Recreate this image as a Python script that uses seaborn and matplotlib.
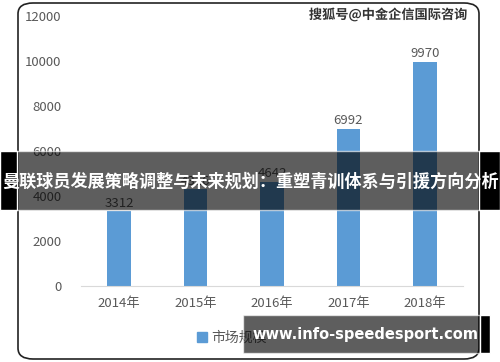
import matplotlib
matplotlib.use("Agg")
import matplotlib.pyplot as plt
import matplotlib.patheffects as pe
import pandas as pd
import seaborn as sns
from matplotlib.patches import FancyBboxPatch, Patch, Rectangle

# data
years = ["2014年", "2015年", "2016年", "2017年", "2018年"]
market_size = [3312, 4316, 4642, 6992, 9970]
y_ticks = [0, 2000, 4000, 6000, 8000, 10000, 12000]
legend_label = "市场规模"
banner_text = "曼联球员发展策略调整与未来规划：重塑青训体系与引援方向分析"
watermark_text = "搜狐号@中金企信国际咨询"
url_text = "www.info-speedesport.com"

df = pd.DataFrame({"year": years, "value": market_size})

sns.set_style("white")
plt.rcParams["font.family"] = ["Noto Sans CJK SC", "DejaVu Sans"]

W, H = 500, 362
fig = plt.figure(figsize=(W / 100, H / 100), dpi=100)


def fx(x):
    return x / W


def fy(y):
    return 1 - y / H


ax = fig.add_axes([fx(81), fy(286), fx(463) - fx(81), fy(16) - fy(286)])
sns.barplot(data=df, x="year", y="value", color="#5b9bd5", width=0.31,
            saturation=1, linewidth=0, ax=ax)

ax.set_ylim(0, 12000)
ax.set_yticks(y_ticks)
ax.set_xlabel("")
ax.set_ylabel("")
grey = "#595959"
ax.tick_params(axis="y", length=0, labelsize=9.5, labelcolor=grey, pad=14)
ax.tick_params(axis="x", length=0, labelsize=9.5, labelcolor=grey, pad=8)
for s in ["top", "right", "left"]:
    ax.spines[s].set_visible(False)
ax.spines["bottom"].set_color("#d9d9d9")
ax.bar_label(ax.containers[0], color=grey, fontsize=9.5, padding=1)

fig.legend(handles=[Patch(color="#5b9bd5", label=legend_label)],
           loc="center", bbox_to_anchor=(fx(232), fy(338)), frameon=False,
           fontsize=10, labelcolor=grey, handlelength=0.7, handleheight=0.7,
           handletextpad=0.3)

# rounded frame around the chart
fig.patches.append(FancyBboxPatch((fx(18), fy(359)), fx(479) - fx(18), fy(3) - fy(359),
                                  boxstyle="round,pad=0,rounding_size=0.03",
                                  transform=fig.transFigure, fill=False,
                                  edgecolor="#222222", linewidth=1.2, zorder=5))

# banner across the middle
fig.patches.append(Rectangle((0, fy(210)), 1, fy(151) - fy(210), transform=fig.transFigure,
                             facecolor="black", alpha=0.63, zorder=6))
fig.patches.append(Rectangle((0, fy(210)), fx(17), fy(151) - fy(210), transform=fig.transFigure,
                             facecolor="black", zorder=6))
fig.patches.append(Rectangle((fx(479), fy(210)), 1 - fx(479), fy(151) - fy(210),
                             transform=fig.transFigure, facecolor="black", zorder=6))
fig.text(0.5, fy(182), banner_text, color="white", fontsize=12.3, fontweight="bold",
         ha="center", va="center", zorder=7)

# watermark
fig.text(fx(468), fy(15), watermark_text, color="#333333", fontsize=9.5, fontweight="bold",
         ha="right", va="center", zorder=7,
         path_effects=[pe.withStroke(linewidth=2, foreground="white")])

# url box
fig.patches.append(Rectangle((fx(243), fy(353)), fx(480) - fx(243), fy(315) - fy(353),
                             transform=fig.transFigure, facecolor="black", alpha=0.63, zorder=6))
fig.patches.append(Rectangle((fx(480), fy(353)), fx(490) - fx(480), fy(315) - fy(353),
                             transform=fig.transFigure, facecolor="black", zorder=6))
fig.text(fx(365), fy(335), url_text, color="white", fontsize=10.5, fontweight="bold",
         family="DejaVu Sans", ha="center", va="center", zorder=7)

fig.savefig("out.png", dpi=100)
